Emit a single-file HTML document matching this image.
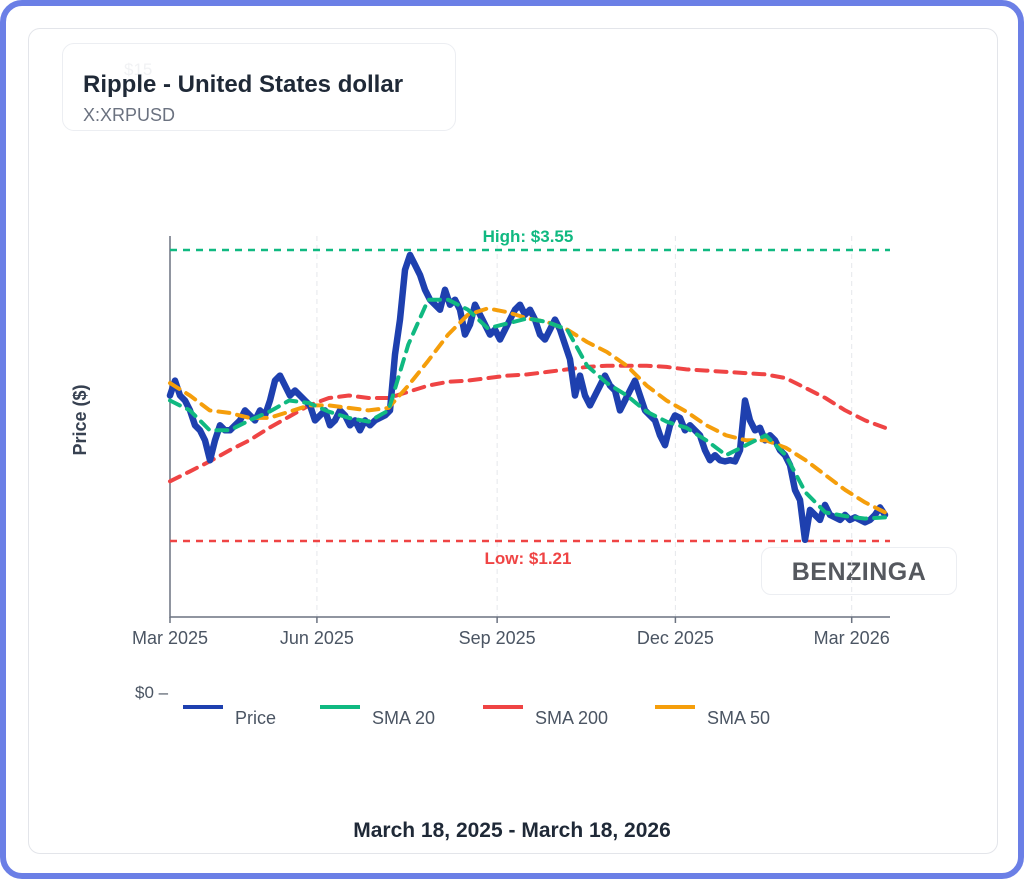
<!DOCTYPE html>
<html><head><meta charset="utf-8"><style>
body{margin:0;width:1024px;height:879px;background:#fff;font-family:"Liberation Sans",sans-serif;overflow:hidden}
#frame{position:absolute;left:0;top:0;width:1012px;height:867px;border:6px solid #6b7fe6;border-radius:22px;background:#fff}
#card{position:absolute;left:28px;top:28px;width:968px;height:824px;border:1px solid #e3e5ea;border-radius:12px}
#title-box{position:absolute;left:62px;top:43px;width:392px;height:86px;border:1px solid #eceef2;border-radius:12px}
</style></head><body>
<div id="frame"></div>
<div id="card"></div>
<div id="title-box"></div>
<div style="position:absolute;left:124px;top:60px;font-size:17px;color:#f1f2f4">$15</div>
<div style="position:absolute;left:83px;top:71px;font-size:24px;font-weight:bold;color:#1f2937">Ripple - United States dollar</div>
<div style="position:absolute;left:83px;top:105px;font-size:18px;color:#6b7280">X:XRPUSD</div>
<div style="position:absolute;left:761px;top:547px;width:194px;height:46px;border:1px solid #eceef2;border-radius:10px;background:#fff;font-size:25px;font-weight:bold;color:#55585e;text-align:center;line-height:48px;letter-spacing:0.5px">BENZINGA</div>
<svg id="chart" width="1024" height="879" style="position:absolute;left:0;top:0"></svg>
<div style="position:absolute;left:0;width:1024px;top:819px;text-align:center;font-size:21px;font-weight:bold;color:#1f2937">March 18, 2025 - March 18, 2026</div>
<script>
const price=[2.38,2.50,2.38,2.34,2.26,2.14,2.10,2.02,1.86,2.02,2.14,2.10,2.10,2.14,2.18,2.26,2.22,2.18,2.26,2.22,2.34,2.50,2.54,2.46,2.38,2.42,2.38,2.34,2.30,2.18,2.22,2.26,2.14,2.18,2.26,2.22,2.14,2.18,2.10,2.18,2.14,2.18,2.20,2.22,2.26,2.71,2.99,3.39,3.51,3.43,3.35,3.23,3.15,3.11,3.07,3.23,3.11,3.15,3.07,2.87,2.95,3.11,3.03,2.95,2.87,2.91,2.83,2.91,2.99,3.07,3.11,3.03,3.07,2.99,2.87,2.83,2.91,2.99,2.91,2.79,2.67,2.38,2.54,2.38,2.30,2.38,2.46,2.54,2.46,2.42,2.26,2.34,2.42,2.50,2.38,2.26,2.22,2.18,2.06,1.98,2.14,2.22,2.20,2.10,2.14,2.10,2.06,1.94,1.86,1.90,1.86,1.85,1.86,1.85,1.94,2.34,2.18,2.10,2.12,2.02,2.06,2.02,1.94,1.90,1.82,1.62,1.54,1.22,1.46,1.42,1.38,1.50,1.42,1.40,1.38,1.42,1.38,1.40,1.38,1.36,1.38,1.42,1.48,1.42];
const sma20=[2.34,2.26,2.10,2.10,2.18,2.25,2.34,2.32,2.25,2.20,2.17,2.26,2.79,3.15,3.15,3.07,2.92,2.96,3.00,2.97,2.91,2.62,2.48,2.38,2.25,2.17,2.12,2.02,1.90,1.98,2.06,1.90,1.60,1.44,1.41,1.39,1.40];
const sma50=[2.48,2.38,2.26,2.24,2.20,2.20,2.25,2.30,2.30,2.28,2.26,2.28,2.46,2.66,2.87,3.03,3.08,3.05,3.00,2.97,2.91,2.81,2.73,2.62,2.46,2.34,2.25,2.14,2.06,2.02,2.02,1.96,1.86,1.74,1.62,1.52,1.44];
const sma200=[1.69,1.77,1.85,1.94,2.02,2.12,2.21,2.30,2.36,2.38,2.36,2.36,2.41,2.46,2.49,2.50,2.52,2.54,2.55,2.57,2.59,2.61,2.62,2.62,2.62,2.61,2.59,2.58,2.57,2.56,2.55,2.52,2.44,2.36,2.26,2.18,2.12];
const highVal=3.55, lowVal=1.21;
const tickLabels=["Mar 2025","Jun 2025","Sep 2025","Dec 2025","Mar 2026"];
const tickDays=[0,75,167,258,348];
const totalDays=365;
const svg=document.getElementById('chart');const NS="http://www.w3.org/2000/svg";
const X0=170,X1=885;
function xDay(d){return X0+(d/totalDays)*(X1-X0);}
function xFrac(i,n){return X0+(i/(n-1))*(X1-X0);}
function y(v){return 541-(v-lowVal)*(291/(highVal-lowVal));}
function mk(t,a){const e=document.createElementNS(NS,t);for(const k in a)e.setAttribute(k,a[k]);svg.appendChild(e);return e;}
tickDays.forEach((d,i)=>{
 const g=mk('line',{x1:xDay(d),x2:xDay(d),y1:236,y2:617,stroke:'#e5e7eb','stroke-dasharray':'5,4'});
 
 
 const tk=mk('line',{x1:xDay(d),x2:xDay(d),y1:617,y2:623,stroke:'#6b7280','stroke-width':1.5});
 
 
 const t=mk('text',{x:xDay(d),y:644,'text-anchor':'middle','font-size':18,fill:'#4b5563','font-family':'Liberation Sans'});
 t.textContent=tickLabels[i];
 
 
});
const ax=mk('path',{d:'M170 236 V617 H890',stroke:'#6b7280','stroke-width':1.5,fill:'none'});


const hl=mk('line',{x1:170,x2:890,y1:y(highVal),y2:y(highVal),stroke:'#10b981','stroke-width':2.5,'stroke-dasharray':'7,6'});


const ll=mk('line',{x1:170,x2:890,y1:y(lowVal),y2:y(lowVal),stroke:'#ef4444','stroke-width':2.5,'stroke-dasharray':'7,6'});


const ht=mk('text',{x:528,y:y(highVal)-8,'text-anchor':'middle','font-size':17,'font-weight':'bold',fill:'#10b981','font-family':'Liberation Sans'});
ht.textContent='High: $'+highVal.toFixed(2);


const lt=mk('text',{x:528,y:y(lowVal)+23,'text-anchor':'middle','font-size':17,'font-weight':'bold',fill:'#ef4444','font-family':'Liberation Sans'});
lt.textContent='Low: $'+lowVal.toFixed(2);


function series(arr,color,w,dash,name){
 const pts=arr.map((v,i)=>xFrac(i,arr.length).toFixed(1)+','+y(v).toFixed(1)).join(' ');
 const a={points:pts,fill:'none',stroke:color,'stroke-width':w,'stroke-linejoin':'round','stroke-linecap':'round'};
 if(dash)a['stroke-dasharray']=dash;
 const p=mk('polyline',a);
 
 
}
series(sma200,'#ef4444',4,'11,8','sma200-line');
series(price,'#1e40af',6.5,null,'price-line');
series(sma50,'#f59e0b',4,'11,8','sma50-line');
series(sma20,'#10b981',4,'11,8','sma20-line');
const yl=mk('text',{x:86,y:420,transform:'rotate(-90 86 420)','text-anchor':'middle','font-size':18,'font-weight':'bold',fill:'#374151','font-family':'Liberation Sans'});
yl.textContent='Price ($)';


const z=mk('text',{x:135,y:698,'font-size':17,fill:'#4b5563','font-family':'Liberation Sans'});
z.textContent='$0 –';


const legNames=['Price','SMA 20','SMA 200','SMA 50'];
const legColors=['#1e40af','#10b981','#ef4444','#f59e0b'];
const legX=[183,320,483,655];
legNames.forEach((n,i)=>{
 const l=mk('line',{x1:legX[i],x2:legX[i]+40,y1:707,y2:707,stroke:legColors[i],'stroke-width':4});
 
 
 const t=mk('text',{x:legX[i]+52,y:724,'font-size':18,fill:'#4b5563','font-family':'Liberation Sans'});
 t.textContent=n;
 
 
});
</script>
</body></html>
